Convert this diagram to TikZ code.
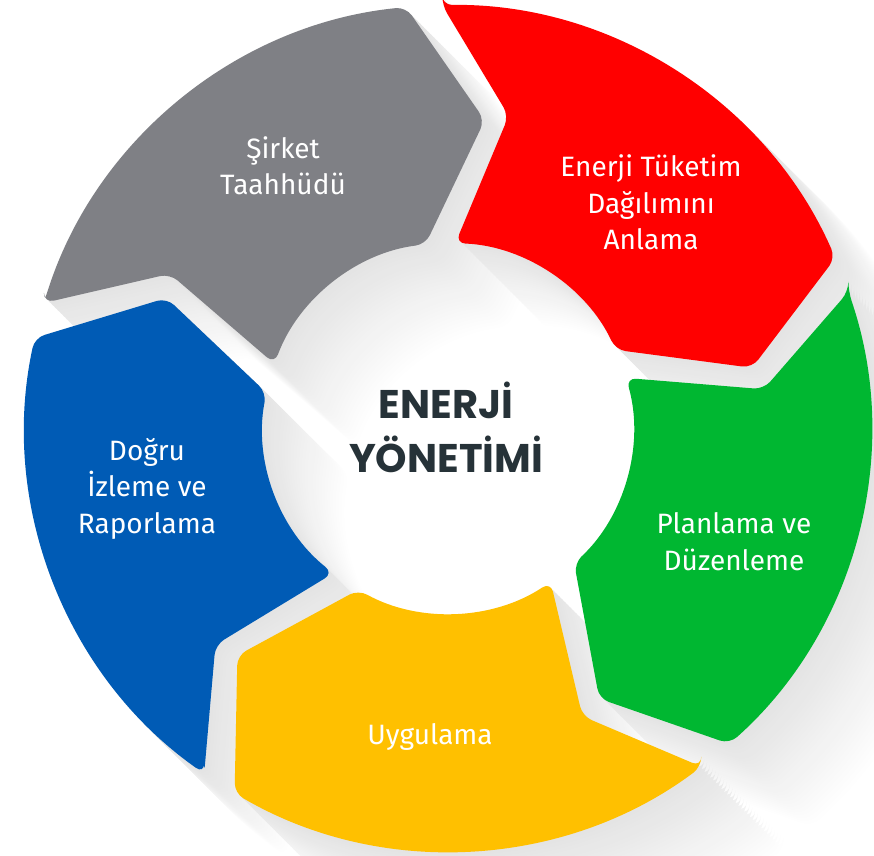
\documentclass[tikz,border=0pt]{standalone}
\usepackage{fontspec}
\setmainfont{Fira Sans}
\newfontfamily\titlefont{Poppins}
\definecolor{cgray}{HTML}{7F8085}
\definecolor{cred}{HTML}{FF0000}
\definecolor{cgreen}{HTML}{00B731}
\definecolor{cyellow}{HTML}{FFC000}
\definecolor{cblue}{HTML}{005BB5}
\definecolor{ctext}{HTML}{263238}
\tikzset{
  seglabel/.style={text=white, align=center, anchor=base, inner sep=0pt,
    font=\fontsize{28}{36.5}\selectfont},
  titlelabel/.style={text=ctext, align=center, anchor=base, inner sep=0pt,
    font={\titlefont\bfseries\fontsize{40}{54}\selectfont}}
}
% #1 options, #2 junction angle at start (ccw end), #3 junction angle at end (cw end)
\newcommand\ringseg[3]{%
  \fill[rounded corners=10pt,#1] (#2-2.4:423pt) -- (#2-14.2:318pt) -- (#2-5.5:185pt)
    arc[start angle=#2-5.5, end angle=#3+3.8, radius=185pt]
    -- (#3-10:310pt) -- (#3+2.5:423pt)
    arc[start angle=#3+2.5, end angle=#2-2.4, radius=423pt] -- cycle;}
\begin{document}
\begin{tikzpicture}
\clip (0,0) rectangle (874pt,855pt);
\fill[white] (0,0) rectangle (874pt,855pt);
\begin{scope}[shift={(448pt,427pt)}]
  % long shadows
  \foreach \d in {116,112,...,4}{
    \pgfmathsetmacro\lev{11*(1-\d/122)}
    \pgfmathsetmacro\off{\d*0.7071}
    \foreach \a/\b in {165.2/93.2, 93.2/21.2, 21.2/-50.8, -50.8/-122.8, -122.8/-194.8}{
      \ringseg{fill=black!\lev, shift={(\off pt,-\off pt)}}{\a}{\b}
    }
  }
  % segments
  \ringseg{fill=cgray}{165.2}{93.2}
  \ringseg{fill=cred}{93.2}{21.2}
  \ringseg{fill=cgreen}{21.2}{-50.8}
  \ringseg{fill=cyellow}{-50.8}{-122.8}
  \ringseg{fill=cblue}{-122.8}{-194.8}
\end{scope}
% base anchor = baseline of the last line
\node[seglabel] (lgray) at (283pt,660pt) {Şirket\\Taahhüdü};
\node[seglabel] (lred) at (651pt,605pt) {Enerji Tüketim\\Dağılımını\\Anlama};
\node[seglabel] (lgreen) at (734pt,285pt) {Planlama ve\\Düzenleme};
\node[seglabel] (lyellow) at (430pt,111pt) {Uygulama};
\node[seglabel] (lblue) at (147pt,322pt) {Doğru\\İzleme ve\\Raporlama};
\node[titlelabel] (title) at (446pt,383pt) {ENERJİ\\YÖNETİMİ};
\end{tikzpicture}
\end{document}
